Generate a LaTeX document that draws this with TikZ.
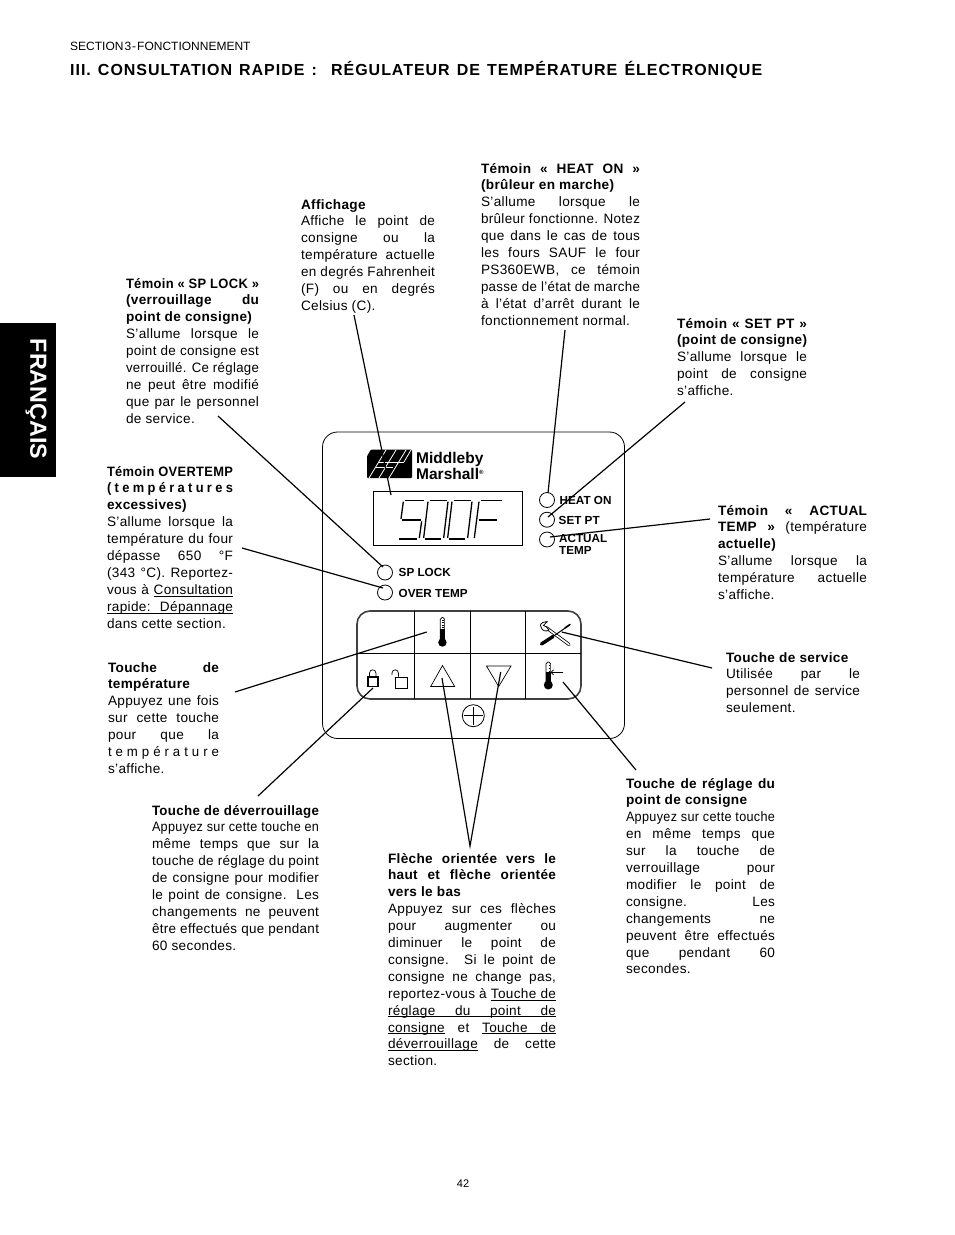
\documentclass[tikz,border=0pt]{standalone}
\usepackage{fontspec}
\usepackage{graphicx}
\setmainfont{Liberation Sans}
\usetikzlibrary{calc}
\newlength{\blockw}
\newsavebox{\linebox}
\newsavebox{\wordbox}
% one justified line
\newcommand{\J}[1]{\spaceskip=0pt\xspaceskip=0pt\sbox{\linebox}{#1}\leavevmode\rule{0pt}{10pt}\ifdim\wd\linebox>\blockw\resizebox{\blockw}{\height}{\usebox{\linebox}}\else\makebox[\blockw][s]{#1}\fi\par}
% one line at its natural width
\newcommand{\Z}[1]{\spaceskip=0pt\xspaceskip=0pt\leavevmode\rule{0pt}{10pt}#1\par}
\newcommand{\B}[1]{{\bfseries #1}}
\newcommand{\LS}[2]{{\addfontfeature{LetterSpace=#1}#2}}
% underlined word and underlined word space
\newcommand{\ulw}[1]{\sbox{\wordbox}{#1}\rlap{\rule[-2pt]{\wd\wordbox}{0.7pt}}\usebox{\wordbox}}
\newcommand{\uls}{\leaders\hrule height -1.3pt depth 2pt\hskip\fontdimen2\font plus\fontdimen3\font minus\fontdimen4\font\relax}
\tikzset{
  x=1pt,y=-1pt,
  txt/.style={anchor=north west,inner sep=0pt,outer sep=0pt,text width=#1,
     font=\fontsize{13.6}{16.9}\selectfont\addfontfeature{LetterSpace=2.5}\setlength{\blockw}{#1}\setlength{\parindent}{0pt}\setlength{\lineskip}{0pt}},
  leader/.style={draw=black,line width=1.2pt},
  thin line/.style={draw=black,line width=0.8pt},
  key line/.style={draw=black,line width=1pt},
  led/.style={circle,draw=black,line width=0.8pt,minimum size=15pt,inner sep=0pt},
  panel lab/.style={anchor=base west,inner sep=0pt,font=\fontsize{11.7}{12}\selectfont\bfseries},
  seg/.style={draw=black,line width=1.3pt},
  pagetxt/.style={inner sep=0pt,font=\fontsize{11}{13}\selectfont},
}
\begin{document}
\begin{tikzpicture}
\useasboundingbox (0,0) rectangle (954,1235);
\fill[white] (0,0) rectangle (954,1235);

% side tab
\fill[black] (0,323) rectangle (56,477);
\node[rotate=-90,inner sep=0pt,text=white,font=\fontsize{23.3}{26}\selectfont\bfseries] (tab) at (36,399) {FRANÇAIS};

% header
\node[anchor=base west,inner sep=0pt,font=\fontsize{12}{13}\selectfont] (sec) at (70,50) {\spaceskip=1pt SECTION 3 - FONCTIONNEMENT};
\node[anchor=base west,inner sep=0pt,font=\fontsize{16}{18}\selectfont\bfseries\addfontfeature{LetterSpace=6}] (title) at (70,75)
  {\makebox[692pt][s]{III.\ CONSULTATION RAPIDE :\ \ RÉGULATEUR DE TEMPÉRATURE ÉLECTRONIQUE}};
\node[pagetxt,anchor=base] (pg) at (463,1187) {42};

% text blocks
\node[txt=134pt] (taff) at (301,199) {%
\Z{\B{Affichage}}
\J{Affiche le point de}
\J{consigne ou la}
\J{température actuelle}
\J{en degrés Fahrenheit}
\J{(F) ou en degrés}
\Z{Celsius (C).}};

\node[txt=159pt] (theat) at (481,163) {%
\J{\B{Témoin « HEAT ON »}}
\Z{\B{(brûleur en marche)}}
\J{S’allume lorsque le}
\J{brûleur fonctionne. Notez}
\J{que dans le cas de tous}
\J{les fours SAUF le four}
\J{PS360EWB, ce témoin}
\J{passe de l’état de marche}
\J{à l’état d’arrêt durant le}
\Z{fonctionnement normal.}};

\node[txt=133pt] (tsp) at (126,278) {%
\J{\B{Témoin « SP LOCK »}}
\J{\B{(verrouillage du}}
\Z{\B{point de consigne)}}
\J{S’allume lorsque le}
\J{point de consigne est}
\J{verrouillé. Ce réglage}
\J{ne peut être modifié}
\J{que par le personnel}
\Z{de service.}};

\node[txt=130pt] (tset) at (677,318) {%
\J{\B{Témoin « SET PT »}}
\J{\B{(point de consigne)}}
\J{S’allume lorsque le}
\J{point de consigne}
\Z{s’affiche.}};

\node[txt=126pt] (tover) at (107,466) {%
\J{\B{Témoin OVERTEMP}}
\J{\B{\LS{26}{(températures}}}
\Z{\B{excessives)}}
\J{S’allume lorsque la}
\J{température du four}
\J{dépasse 650 °F}
\J{(343 °C). Reportez-}
\J{vous à \ulw{Consultation}}
\J{\ulw{rapide:}\uls\ulw{Dépannage}}
\Z{dans cette section.}};

\node[txt=149pt] (tact) at (718,505) {%
\J{\B{Témoin « ACTUAL}}
\J{\B{TEMP »} (température}
\Z{\B{actuelle)}}
\J{S’allume lorsque la}
\J{température actuelle}
\Z{s’affiche.}};

\node[txt=111pt] (ttemp) at (108,662) {%
\J{\B{Touche de}}
\Z{\B{température}}
\J{Appuyez une fois}
\J{sur cette touche}
\J{pour que la}
\J{\LS{30}{température}}
\Z{s’affiche.}};

\node[txt=134pt] (tserv) at (726,652) {%
\Z{\B{Touche de service}}
\J{Utilisée par le}
\J{personnel de service}
\Z{seulement.}};

\node[txt=167pt] (tdev) at (152,805) {%
\J{\B{Touche de déverrouillage}}
\J{Appuyez sur cette touche en}
\J{même temps que sur la}
\J{touche de réglage du point}
\J{de consigne pour modifier}
\J{le point de consigne. Les}
\J{changements ne peuvent}
\J{être effectués que pendant}
\Z{60 secondes.}};

\node[txt=168pt] (tfle) at (388,853) {%
\J{\B{Flèche orientée vers le}}
\J{\B{haut et flèche orientée}}
\Z{\B{vers le bas}}
\J{Appuyez sur ces flèches}
\J{pour augmenter ou}
\J{diminuer le point de}
\J{consigne. Si le point de}
\J{consigne ne change pas,}
\J{reportez-vous à \ulw{Touche}\uls\ulw{de}}
\J{\ulw{réglage}\uls\ulw{du}\uls\ulw{point}\uls\ulw{de}}
\J{\ulw{consigne} et \ulw{Touche}\uls\ulw{de}}
\J{\ulw{déverrouillage} de cette}
\Z{section.}};

\node[txt=149pt] (treg) at (626,778) {%
\J{\B{Touche de réglage du}}
\Z{\B{point de consigne}}
\J{Appuyez sur cette touche}
\J{en même temps que}
\J{sur la touche de}
\J{verrouillage pour}
\J{modifier le point de}
\J{consigne. Les}
\J{changements ne}
\J{peuvent être effectués}
\J{que pendant 60}
\Z{secondes.}};

% controller panel
\draw[thin line,rounded corners=15pt] (322.5,432) rectangle (624.5,738.5);

% logo
\fill[black,rounded corners=1pt] (371,449.5) -- (412,449.5) -- (412,478) -- (367,478) -- (367,456) -- cycle;
\begin{scope}[white,line width=0.8pt]
\draw (386,450) -- (369,478);
\draw (396,450) -- (379,478);
\draw (406,450) -- (389,478);
\draw (379,462) -- (404,462);
\draw (376,467) -- (393,467);
\draw (411,450) -- (404,462);
\end{scope}
\node[panel lab,font=\fontsize{15.5}{16}\selectfont\bfseries] (mid) at (416,463) {Middleby};
\node[panel lab,font=\fontsize{15.5}{16}\selectfont\bfseries] (mar) at (416,479) {Marshall\raisebox{5pt}{\fontsize{6}{6}\selectfont®}};

% display
\draw[thin line] (373.5,491) rectangle (522.5,545);
\begin{scope}[shift={(320,425)},x=0.3333pt,y=-0.3333pt]
% 5
\draw[seg] (255,226) -- (312,226);
\draw[seg] (250,230) -- (243,282);
\draw[seg] (247,285) -- (302,285);
\draw[seg] (305,289) -- (298,339);
\draw[seg] (237,342) -- (292,342);
% 0
\draw[seg] (329,226) -- (380,226);
\draw[seg] (324,230) -- (311,339);
\draw[seg] (384,230) -- (371,339);
\draw[seg] (314,342) -- (364,342);
% 0
\draw[seg] (401,226) -- (452,226);
\draw[seg] (396,230) -- (383,339);
\draw[seg] (456,230) -- (443,339);
\draw[seg] (386,342) -- (436,342);
% F
\draw[seg] (482,226) -- (545,226);
\draw[seg] (477,230) -- (463,339);
\draw[seg] (476,285) -- (530,285);
\end{scope}

% lamps
\node[led] (lheat) at (547,500) {};
\node[led] (lset) at (547,519.7) {};
\node[led] (lact) at (547,539.5) {};
\node[led] (lsp) at (385,572.5) {};
\node[led] (lover) at (385,592.5) {};
\node[panel lab] (nheat) at (559.5,504.5) {HEAT ON};
\node[panel lab] (nset) at (558.5,524.5) {SET PT};
\node[panel lab] (nact) at (559,542) {ACTUAL};
\node[panel lab] (ntmp) at (559,554) {TEMP};
\node[panel lab] (nsp) at (398.5,576.5) {SP LOCK};
\node[panel lab] (nov) at (398.5,597) {OVER TEMP};

% keypad
\draw[draw=black!75,line width=1.6pt,rounded corners=13pt] (357,611) rectangle (581,699);
\draw[key line] (357,653.7) -- (581,653.7);
\draw[key line] (414.3,611) -- (414.3,699);
\draw[key line] (470.3,611) -- (470.3,699);
\draw[key line] (525.7,611) -- (525.7,699);

% thermometer, temperature key
\draw[line width=0.7pt,rounded corners=1.8pt] (440.2,640) -- (440.2,617.5) -- (444.6,617.5) -- (444.6,640);
\fill[black] (440.2,629) rectangle (444.6,640);
\fill[black] (442.4,642.5) circle (4.2pt);
\foreach \ty in {620,622.5,625,627.5} \draw[line width=0.5pt] (442.4,\ty) -- (444.4,\ty);

% thermometer, set point key
\draw[line width=0.7pt,rounded corners=1.8pt] (546,682) -- (546,662) -- (550.6,662) -- (550.6,682);
\fill[black] (546,672) rectangle (550.6,682);
\fill[black] (548.3,685) circle (4.5pt);
\foreach \ty in {665,668,671} \draw[line width=0.5pt] (548.5,\ty) -- (550.4,\ty);
\draw[line width=0.7pt] (563,672.3) -- (551.5,672.3);
\draw[line width=0.7pt] (553.5,669.8) -- (551,672.3) -- (553.5,674.8);

% tools
\draw[line width=3.2pt,line cap=round] (546,627.5) -- (569,644.5);
\draw[white,line width=1.6pt,line cap=round] (546,627.5) -- (569,644.5);
\draw[line width=3.4pt,line cap=round] (541.5,644) -- (553,636.5);
\draw[line width=1pt] (553,636.5) -- (569.5,625);
\draw[line width=1.6pt,line cap=round] (565,628) -- (570,624.5);
\draw[line width=0.8pt,fill=white] (547.5,621.5) .. controls (541,622) and (539.5,624.5) .. (541,627) .. controls (542,631) and (546,632) .. (549,630) -- (546.5,627) -- (543.5,625.5) .. controls (544,624) and (546,623.5) .. (547.5,621.5);

% locks
\draw[line width=1.4pt,fill=white] (368,677) rectangle (378,686.5);
\draw[line width=0.7pt] (369.5,677) -- (369.5,673) arc (180:0:3.2pt) -- (375.9,677);
\draw[line width=0.7pt] (395.5,677) rectangle (407,688);
\draw[line width=0.7pt] (392,675) -- (392,673) arc (180:0:3.2pt) -- (398.4,676.5);

% arrow keys
\draw[line width=0.7pt] (442.5,665.5) -- (430.7,686.5) -- (454.7,686.5) -- cycle;
\draw[line width=0.7pt] (486.5,666) -- (511,666) -- (498.7,686.5) -- cycle;

% screw
\node[circle,draw=black,line width=0.8pt,minimum size=22pt,inner sep=0pt] (scr) at (473.3,715.7) {};
\draw[line width=0.8pt] (463.5,715.7) -- (483,715.7);
\draw[line width=0.8pt] (473.3,707) -- (473.3,724.5);

% named connector ends
\coordinate (aA) at (354,315);
\coordinate (aB) at (391,495);
\coordinate (hA) at (565,330);
\coordinate (hB) at (548,493);
\coordinate (sA) at (685,402);
\coordinate (sB) at (548,517);
\coordinate (cA) at (710,519);
\coordinate (cB) at (550,537);
\coordinate (pA) at (218,416);
\coordinate (pB) at (383,567);
\coordinate (oA) at (242,548);
\coordinate (oB) at (383,588);
\coordinate (tA) at (235,692);
\coordinate (tB) at (426.7,632);
\coordinate (vA) at (712,668);
\coordinate (vB) at (561.7,632);
\coordinate (lA) at (258,796);
\coordinate (lB) at (373,688);
\coordinate (fA) at (470,846);
\coordinate (fB) at (442,678);
\coordinate (fC) at (500.7,672);
\coordinate (rA) at (636,770);
\coordinate (rB) at (563,682);
\draw[leader] (aA) -- (aB);
\draw[leader] (hA) -- (hB);
\draw[leader] (sA) -- (sB);
\draw[leader] (cA) -- (cB);
\draw[leader] (pA) -- (pB);
\draw[leader] (oA) -- (oB);
\draw[leader] (tA) -- (tB);
\draw[leader] (vA) -- (vB);
\draw[leader] (lA) -- (lB);
\draw[leader] (fB) -- (fA) -- (fC);
\draw[leader] (rA) -- (rB);
\end{tikzpicture}
\end{document}
